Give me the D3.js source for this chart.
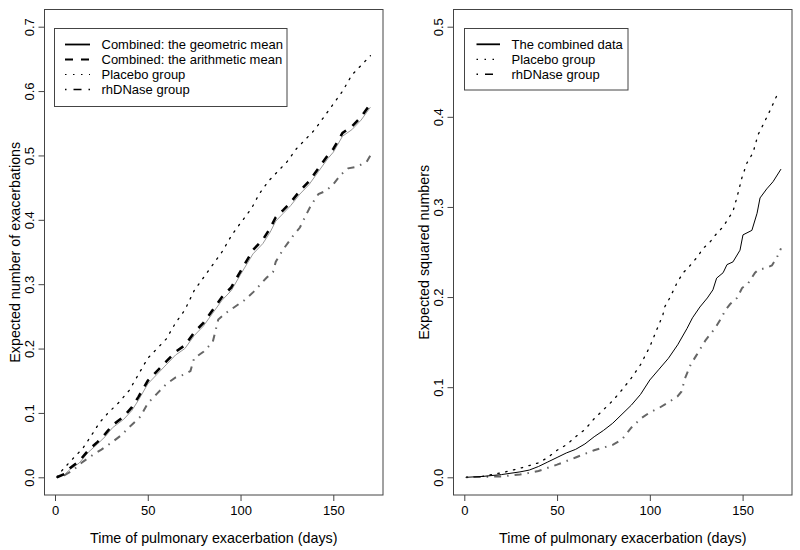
<!DOCTYPE html>
<html>
<head>
<meta charset="utf-8">
<script src="https://cdn.jsdelivr.net/npm/d3@7"></script>
<style>
  body { margin: 0; background: #fff; }
  svg { display: block; font-family: "Liberation Sans", Arial, Helvetica, sans-serif; }
</style>
</head>
<body>
<svg id="chart" width="800" height="550"></svg>
<script>
// ---------------- DATA ----------------
const xTicks = [0, 50, 100, 150];
const leftYTicks = [0.0, 0.1, 0.2, 0.3, 0.4, 0.5, 0.6, 0.7];
const rightYTicks = [0.0, 0.1, 0.2, 0.3, 0.4, 0.5];

// Left panel: expected number of exacerbations
const leftArithTime = [1, 5, 8, 13, 18, 23, 27, 31, 37, 41.5, 45, 50, 55, 60, 65, 70, 75, 80, 85, 90, 95, 100, 106.7, 112, 116, 119, 123, 127, 132, 137, 142, 147, 150, 155, 160, 165, 170];
const leftArith = [0, 0.005, 0.014, 0.025, 0.042, 0.055, 0.067, 0.081, 0.094, 0.109, 0.125, 0.15, 0.165, 0.18, 0.195, 0.205, 0.225, 0.24, 0.26, 0.28, 0.295, 0.32, 0.353, 0.369, 0.387, 0.404, 0.415, 0.427, 0.445, 0.46, 0.48, 0.5, 0.51, 0.535, 0.545, 0.56, 0.58];
const leftGeoTime = [1, 5, 8, 13, 18, 23, 27, 31, 37, 41.5, 45, 50, 55, 60, 65, 70, 75, 80, 85, 90, 95, 100, 106.7, 112, 116, 119, 123, 127, 132, 137, 142, 147, 150, 155, 160, 165, 170];
const leftGeo = [0, 0.004, 0.012, 0.022, 0.039, 0.052, 0.063, 0.077, 0.09, 0.104, 0.12, 0.145, 0.16, 0.175, 0.19, 0.2, 0.22, 0.235, 0.255, 0.275, 0.29, 0.315, 0.347, 0.363, 0.381, 0.398, 0.41, 0.422, 0.44, 0.455, 0.475, 0.495, 0.505, 0.53, 0.54, 0.555, 0.575];
const leftPlaceboTime = [1, 3, 8, 15, 20.5, 24, 28.6, 34, 40, 45, 50, 55, 60, 65, 70, 75, 80, 85, 90, 95, 100, 106, 110, 115, 120, 125, 130, 135, 140, 145, 150, 155, 160, 165, 170];
const leftPlacebo = [0, 0.008, 0.024, 0.045, 0.069, 0.085, 0.1, 0.115, 0.135, 0.16, 0.185, 0.2, 0.215, 0.24, 0.26, 0.29, 0.31, 0.33, 0.35, 0.375, 0.395, 0.418, 0.44, 0.46, 0.475, 0.49, 0.51, 0.525, 0.54, 0.56, 0.58, 0.6, 0.625, 0.64, 0.655];
const leftRhTime = [1, 5, 9.7, 15, 20.5, 25, 31, 36, 40, 46, 50, 55, 60, 65, 70, 73, 75, 80, 85, 88, 92, 97, 102, 107, 110.5, 114, 117.5, 119, 123, 128, 132, 134, 137.5, 139, 142, 146, 150, 154, 158, 162, 166, 168, 170];
const leftRh = [0, 0.003, 0.011, 0.024, 0.035, 0.043, 0.055, 0.066, 0.078, 0.094, 0.115, 0.13, 0.145, 0.155, 0.16, 0.165, 0.185, 0.195, 0.21, 0.245, 0.255, 0.265, 0.275, 0.288, 0.299, 0.31, 0.319, 0.335, 0.354, 0.374, 0.388, 0.4, 0.42, 0.427, 0.44, 0.445, 0.455, 0.47, 0.48, 0.482, 0.487, 0.49, 0.5];

// Right panel: expected squared numbers
const rightCombTime = [1, 10, 20, 30, 35, 40, 45, 50, 55, 60, 65, 70, 75, 80, 85, 90, 95, 100, 105, 110, 115, 120, 123, 127, 131, 134, 136, 139.5, 141.6, 144.8, 148.6, 150.2, 155, 157.8, 159.4, 163, 166.4, 170.7];
const rightComb = [0, 0.001, 0.003, 0.006, 0.008, 0.012, 0.017, 0.022, 0.027, 0.031, 0.037, 0.045, 0.052, 0.06, 0.07, 0.08, 0.092, 0.108, 0.12, 0.132, 0.147, 0.165, 0.177, 0.189, 0.199, 0.208, 0.221, 0.227, 0.236, 0.239, 0.252, 0.269, 0.274, 0.293, 0.31, 0.32, 0.328, 0.342];
const rightPlaceboTime = [1, 10, 20, 30, 40, 45, 50, 55, 60, 65, 70, 75, 80, 85, 90, 95, 100, 104, 107, 108, 111, 114.7, 118, 121.7, 125.4, 128.7, 132.4, 136.2, 139.5, 142, 144.8, 147, 149.7, 152.4, 155.6, 158.3, 161, 164.8, 169];
const rightPlacebo = [0, 0.001, 0.005, 0.01, 0.016, 0.022, 0.03, 0.036, 0.045, 0.053, 0.065, 0.075, 0.085, 0.097, 0.11, 0.125, 0.145, 0.165, 0.18, 0.189, 0.2, 0.216, 0.227, 0.235, 0.244, 0.254, 0.261, 0.271, 0.278, 0.286, 0.295, 0.311, 0.333, 0.349, 0.36, 0.38, 0.391, 0.407, 0.426];
const rightRhTime = [1, 20, 30, 40, 50, 55, 60, 65, 70, 75, 80, 85, 90, 95, 100, 105, 110, 115, 117, 119, 122, 125, 130, 135, 138.9, 140.5, 143.2, 147, 149.7, 152.9, 156.7, 158.3, 162, 165.8, 168.5, 170.7];
const rightRh = [0, 0.001, 0.003, 0.007, 0.014, 0.018, 0.022, 0.026, 0.03, 0.033, 0.036, 0.042, 0.055, 0.065, 0.072, 0.077, 0.083, 0.09, 0.095, 0.11, 0.125, 0.135, 0.152, 0.165, 0.178, 0.185, 0.192, 0.199, 0.21, 0.215, 0.227, 0.23, 0.232, 0.235, 0.244, 0.254];

const leftLegendLabels = ["Combined: the geometric mean", "Combined: the arithmetic mean", "Placebo group", "rhDNase group"];
const rightLegendLabels = ["The combined data", "Placebo group", "rhDNase group"];
const xTitle = "Time of pulmonary exacerbation (days)";
const leftYTitle = "Expected number of exacerbations";
const rightYTitle = "Expected squared numbers";

// ---------------- STYLES ----------------
const FONT_TICK = 13, FONT_TITLE = 14.3, FONT_LEG = 13;
const styles = {
  geo:    { stroke: "#999", width: 1,   dash: null },
  arith:  { stroke: "#000", width: 2.6, dash: "8,8" },
  solid:  { stroke: "#000", width: 1,   dash: null },
  placebo:{ stroke: "#000", width: 1.3, dash: "1.5,6.5" },
  rh:     { stroke: "#666", width: 2,   dash: "1.5,6,7,6" }
};
const legStyles = {
  geo:    { stroke: "#000", width: 1.8, dash: null },
  arith:  { stroke: "#000", width: 2.2, dash: "8,8" },
  solid:  { stroke: "#000", width: 1.8, dash: null },
  placebo:{ stroke: "#000", width: 1.2, dash: "1.5,6.5" },
  rh:     { stroke: "#000", width: 1.4, dash: "1.5,7,8,7" }
};

const svg = d3.select("#chart");

function zip(t, v) { return t.map((d, i) => ({ t: d, v: v[i] })); }

function panel(cfg) {
  const { box, x0px, x150px, y0px, yTopPx, yMax, yTicks, series, legend, yTitle } = cfg;
  const x = d3.scaleLinear().domain([0, 150]).range([x0px, x150px]);
  const y = d3.scaleLinear().domain([0, yMax]).range([y0px, yTopPx]);
  const g = svg.append("g");

  const clipId = "clip" + Math.round(box.x0);
  svg.append("clipPath").attr("id", clipId).append("rect")
    .attr("x", box.x0).attr("y", box.y0).attr("width", box.x1 - box.x0).attr("height", box.y1 - box.y0);

  const line = d3.line().x(d => x(d.t)).y(d => y(d.v));
  const lines = g.append("g").attr("clip-path", `url(#${clipId})`);
  series.forEach(s => {
    const st = styles[s.style];
    lines.append("path")
      .datum(zip(s.t, s.v))
      .attr("d", line)
      .attr("fill", "none")
      .attr("stroke", st.stroke)
      .attr("stroke-width", st.width)
      .attr("stroke-dasharray", st.dash)
      .attr("stroke-linecap", s.style === "placebo" ? "round" : "butt");
  });

  // box
  g.append("rect")
    .attr("x", box.x0).attr("y", box.y0)
    .attr("width", box.x1 - box.x0).attr("height", box.y1 - box.y0)
    .attr("fill", "none").attr("stroke", "#444").attr("stroke-width", 1);

  // x axis
  const xa = g.append("g").attr("transform", `translate(0,${box.y1})`)
    .call(d3.axisBottom(x).tickValues(xTicks).tickSize(6).tickSizeOuter(0).tickFormat(d3.format("d")));
  xa.select(".domain").remove();
  xa.selectAll(".tick line").attr("stroke", "#444");
  xa.selectAll(".tick text").attr("y", 20).attr("dy", 0)
    .attr("font-size", FONT_TICK).attr("font-family", "Liberation Sans, Arial, sans-serif").attr("fill", "#000");

  // y axis
  const ya = g.append("g").attr("transform", `translate(${box.x0},0)`)
    .call(d3.axisLeft(y).tickValues(yTicks).tickSize(6).tickSizeOuter(0).tickFormat(d3.format(".1f")));
  ya.select(".domain").remove();
  ya.selectAll(".tick line").attr("stroke", "#444");
  ya.selectAll(".tick text")
    .attr("x", null).attr("dy", null)
    .attr("transform", "translate(-11,0) rotate(-90)")
    .attr("text-anchor", "middle")
    .attr("font-size", FONT_TICK).attr("font-family", "Liberation Sans, Arial, sans-serif").attr("fill", "#000");

  // titles
  g.append("text")
    .attr("x", (box.x0 + box.x1) / 2).attr("y", 543)
    .attr("text-anchor", "middle").attr("font-size", FONT_TITLE).text(xTitle);
  g.append("text")
    .attr("transform", `translate(${box.x0 - 25},${(box.y0 + box.y1) / 2}) rotate(-90)`)
    .attr("text-anchor", "middle").attr("font-size", FONT_TITLE).text(yTitle);

  // legend
  const lg = g.append("g");
  lg.append("rect")
    .attr("x", legend.x0).attr("y", legend.y0)
    .attr("width", legend.x1 - legend.x0).attr("height", legend.y1 - legend.y0)
    .attr("fill", "#fff").attr("stroke", "#444").attr("stroke-width", 1);
  legend.labels.forEach((lab, i) => {
    const cy = legend.firstRow + i * 15;
    const st = legStyles[legend.styles[i]];
    lg.append("line")
      .attr("x1", legend.lx0).attr("x2", legend.lx1).attr("y1", cy).attr("y2", cy)
      .attr("stroke", st.stroke).attr("stroke-width", st.width)
      .attr("stroke-dasharray", st.dash);
    lg.append("text").attr("x", legend.tx).attr("y", cy + 4.6)
      .attr("font-size", FONT_LEG).text(lab);
  });
}

panel({
  box: { x0: 44.5, x1: 383, y0: 9.5, y1: 495 },
  x0px: 55, x150px: 333.3, y0px: 477.3, yTopPx: 26.7, yMax: 0.7,
  yTicks: leftYTicks,
  yTitle: leftYTitle,
  series: [
    { t: leftPlaceboTime, v: leftPlacebo, style: "placebo" },
    { t: leftRhTime, v: leftRh, style: "rh" },
    { t: leftGeoTime, v: leftGeo, style: "geo" },
    { t: leftArithTime, v: leftArith, style: "arith" }
  ],
  legend: { x0: 54.5, x1: 287, y0: 28.5, y1: 106.5, lx0: 65, lx1: 90, tx: 101.5, firstRow: 44.5,
            labels: leftLegendLabels, styles: ["geo", "arith", "placebo", "rh"] }
});

panel({
  box: { x0: 453.5, x1: 792, y0: 9.5, y1: 495 },
  x0px: 464.3, x150px: 742.6, y0px: 477.3, yTopPx: 26.7, yMax: 0.5,
  yTicks: rightYTicks,
  yTitle: rightYTitle,
  series: [
    { t: rightPlaceboTime, v: rightPlacebo, style: "placebo" },
    { t: rightRhTime, v: rightRh, style: "rh" },
    { t: rightCombTime, v: rightComb, style: "solid" }
  ],
  legend: { x0: 464.5, x1: 628, y0: 28.5, y1: 90, lx0: 476.5, lx1: 500, tx: 511.5, firstRow: 44.3,
            labels: rightLegendLabels, styles: ["solid", "placebo", "rh"] }
});
</script>
</body>
</html>
